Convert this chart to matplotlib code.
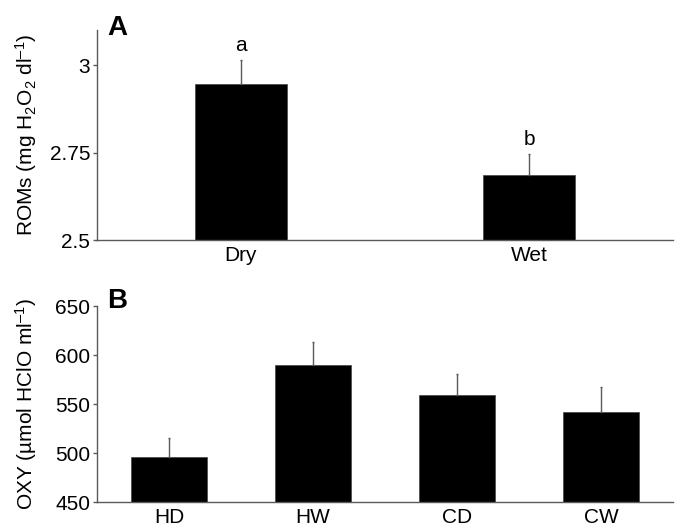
import matplotlib
matplotlib.use("Agg")
import matplotlib.pyplot as plt

plt.rcParams['font.family'] = ['Liberation Sans', 'DejaVu Sans']
plt.rcParams['mathtext.fontset'] = 'custom'
plt.rcParams['mathtext.rm'] = 'Liberation Sans'
plt.rcParams['mathtext.default'] = 'regular'

# Panel A data
seasons = ["Dry", "Wet"]
roms_mean = [2.946, 2.685]
roms_err = [0.068, 0.060]
roms_letters = ["a", "b"]

# Panel B data
groups = ["HD", "HW", "CD", "CW"]
oxy_mean = [496, 589.5, 559.5, 542]
oxy_err = [19, 24, 21, 25]

line_col = "#5a5a5a"
fs = 15

fig = plt.figure(figsize=(6.78, 5.31), dpi=100)
axA = fig.add_axes([0.143, 0.548, 0.8496, 0.3955])
axB = fig.add_axes([0.143, 0.0546, 0.8496, 0.369])


def style(ax):
    for s in ["top", "right"]:
        ax.spines[s].set_visible(False)
    for s in ["left", "bottom"]:
        ax.spines[s].set_color(line_col)
        ax.spines[s].set_linewidth(1.0)
    ax.tick_params(axis="y", length=3, width=1, color=line_col, pad=2, labelsize=fs)
    ax.tick_params(axis="x", length=0, pad=4, labelsize=fs)


# Panel A
xa = range(len(seasons))
axA.bar(xa, roms_mean, width=0.32, color="black", edgecolor="#444444", linewidth=0.5)
axA.errorbar(xa, roms_mean, yerr=[[0, 0], roms_err], fmt="none",
             ecolor=line_col, elinewidth=1, capsize=1)
for i, (m, e, t) in enumerate(zip(roms_mean, roms_err, roms_letters)):
    axA.annotate(t, (i, m + e), xytext=(0, 4), textcoords="offset points",
                 ha="center", va="bottom", fontsize=fs)
axA.set_xlim(-0.5, 1.5)
axA.set_ylim(2.5, 3.1)
axA.set_yticks([2.5, 2.75, 3])
axA.set_yticklabels(["2.5", "2.75", "3"])
axA.set_xticks(list(xa))
axA.set_xticklabels(seasons)
axA.set_ylabel("ROMs (mg H$_2$O$_2$ dl$^{–1}$)", fontsize=fs)
axA.yaxis.set_label_coords(-0.10, 0.5)
style(axA)

# Panel B
xb = range(len(groups))
axB.bar(xb, oxy_mean, width=0.53, color="black", edgecolor="#444444", linewidth=0.5)
axB.errorbar(xb, oxy_mean, yerr=[[0] * 4, oxy_err], fmt="none",
             ecolor=line_col, elinewidth=1, capsize=1)
axB.set_xlim(-0.5, 3.5)
axB.set_ylim(450, 650)
axB.set_yticks([450, 500, 550, 600, 650])
axB.set_xticks(list(xb))
axB.set_xticklabels(groups)
axB.set_ylabel("OXY (µmol HClO ml$^{–1}$)", fontsize=fs)
axB.yaxis.set_label_coords(-0.10, 0.5)
style(axB)

fig.text(107 / 678, 1 - 35 / 531, "A", fontsize=20, fontweight="bold", va="baseline")
fig.text(107 / 678, 1 - 308 / 531, "B", fontsize=20, fontweight="bold", va="baseline")

fig.savefig("out.png", dpi=100)
